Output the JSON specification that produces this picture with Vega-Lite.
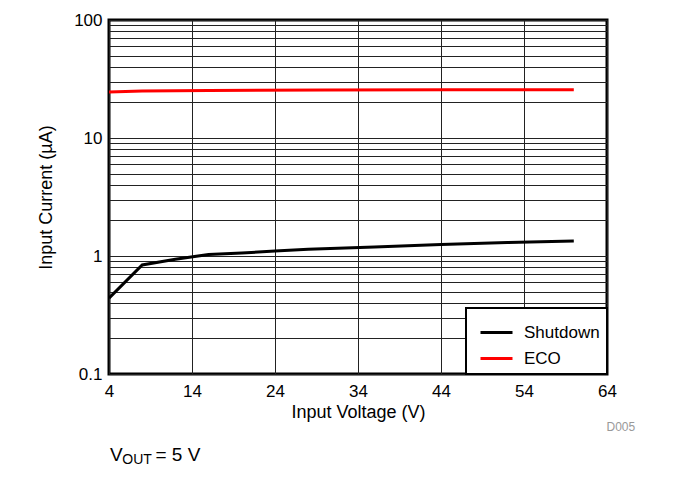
{
  "$schema": "https://vega.github.io/schema/vega-lite/v6.json",
  "width": 498,
  "height": 354,
  "autosize": {"type": "none"},
  "padding": {"left": 109, "top": 20, "right": 66, "bottom": 130},
  "background": "white",
  "config": {
    "font": "Liberation Sans",
    "view": {"stroke": "black", "strokeWidth": 3},
    "axis": {"labelFont": "Liberation Sans", "titleFont": "Liberation Sans", "labelColor": "black", "titleColor": "black", "titleFontWeight": "normal"},
    "legend": {"strokeWidth": 2}
  },
  "datasets": {
    "curves": [
      {"v": 4, "i": 0.44, "mode": "Shutdown"},
      {"v": 8, "i": 0.84, "mode": "Shutdown"},
      {"v": 12, "i": 0.94, "mode": "Shutdown"},
      {"v": 16, "i": 1.03, "mode": "Shutdown"},
      {"v": 20, "i": 1.06, "mode": "Shutdown"},
      {"v": 24, "i": 1.1, "mode": "Shutdown"},
      {"v": 28, "i": 1.14, "mode": "Shutdown"},
      {"v": 36, "i": 1.19, "mode": "Shutdown"},
      {"v": 44, "i": 1.25, "mode": "Shutdown"},
      {"v": 52, "i": 1.3, "mode": "Shutdown"},
      {"v": 60, "i": 1.34, "mode": "Shutdown"},
      {"v": 4, "i": 24.5, "mode": "ECO"},
      {"v": 8, "i": 25.0, "mode": "ECO"},
      {"v": 16, "i": 25.3, "mode": "ECO"},
      {"v": 30, "i": 25.5, "mode": "ECO"},
      {"v": 45, "i": 25.6, "mode": "ECO"},
      {"v": 60, "i": 25.7, "mode": "ECO"}
    ],
    "notes": [
      {"v": 67.4, "i": 0.0356, "t": "D005", "kind": "code"},
      {"v": 4.12, "i": 0.0206, "t": "V", "kind": "big"},
      {"v": 5.6, "i": 0.0206, "t": "OUT", "kind": "sub"},
      {"v": 9.6, "i": 0.0206, "t": "= 5 V", "kind": "big"}
    ]
  },
  "layer": [
    {
      "data": {"name": "curves"},
      "mark": {"type": "line", "strokeWidth": 3, "clip": true},
      "encoding": {
        "x": {
          "field": "v", "type": "quantitative",
          "scale": {"domain": [4, 64], "nice": false, "zero": false},
          "axis": {
            "values": [4, 14, 24, 34, 44, 54, 64],
            "title": "Input Voltage (V)",
            "titleFontSize": 18, "labelFontSize": 17,
            "ticks": false, "domain": false,
            "grid": true, "gridColor": "#222", "gridWidth": 1, "gridOpacity": 1,
            "labelPadding": 9, "titlePadding": 4,
            "labelFlush": false
          }
        },
        "y": {
          "field": "i", "type": "quantitative",
          "scale": {"type": "log", "domain": [0.1, 100], "nice": false},
          "axis": {
            "values": [0.1, 0.2, 0.3, 0.4, 0.5, 0.6, 0.7, 0.8, 0.9, 1, 2, 3, 4, 5, 6, 7, 8, 9, 10, 20, 30, 40, 50, 60, 70, 80, 90, 100],
            "format": "~g",
            "labelExpr": "(datum.value == 0.1 || datum.value == 1 || datum.value == 10 || datum.value == 100) ? datum.label : ''",
            "title": "Input Current (µA)",
            "titleFontSize": 18, "labelFontSize": 17,
            "ticks": false, "domain": false,
            "grid": true, "gridColor": "#222", "gridWidth": 1, "gridOpacity": 1,
            "labelPadding": 7, "titlePadding": 18,
            "labelFlush": false
          }
        },
        "color": {
          "field": "mode", "type": "nominal",
          "scale": {"domain": ["Shutdown", "ECO"], "range": ["black", "#ff0000"]},
          "legend": {
            "title": null,
            "orient": "bottom-right",
            "offset": 0,
            "symbolType": "stroke",
            "symbolStrokeWidth": 3,
            "symbolSize": 1024,
            "symbolOffset": 6,
            "labelFontSize": 17,
            "labelColor": "black",
            "fillColor": "white",
            "strokeColor": "black",
            "padding": 7,
            "rowPadding": -16,
            "labelOffset": 10
          }
        },
        "detail": {"field": "mode"}
      }
    },
    {
      "data": {"name": "notes"},
      "transform": [{"filter": "datum.kind == 'code'"}],
      "mark": {"type": "text", "clip": false, "align": "right", "baseline": "middle", "fontSize": 12, "color": "#999999"},
      "encoding": {
        "x": {"field": "v", "type": "quantitative"},
        "y": {"field": "i", "type": "quantitative"},
        "text": {"field": "t"}
      }
    },
    {
      "data": {"name": "notes"},
      "transform": [{"filter": "datum.kind == 'big'"}],
      "mark": {"type": "text", "clip": false, "align": "left", "baseline": "middle", "fontSize": 19, "color": "black"},
      "encoding": {
        "x": {"field": "v", "type": "quantitative"},
        "y": {"field": "i", "type": "quantitative"},
        "text": {"field": "t"}
      }
    },
    {
      "data": {"name": "notes"},
      "transform": [{"filter": "datum.kind == 'sub'"}],
      "mark": {"type": "text", "clip": false, "align": "left", "baseline": "middle", "fontSize": 14, "dy": 5, "color": "black"},
      "encoding": {
        "x": {"field": "v", "type": "quantitative"},
        "y": {"field": "i", "type": "quantitative"},
        "text": {"field": "t"}
      }
    }
  ]
}
